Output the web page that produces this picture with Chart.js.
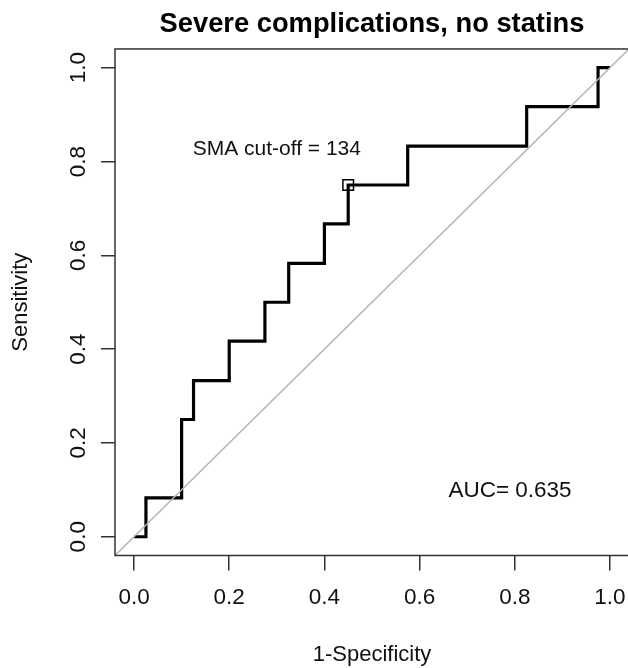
<!DOCTYPE html>
<html>
<head>
<meta charset="utf-8">
<script src="https://cdn.jsdelivr.net/npm/chart.js@4/dist/chart.umd.min.js"></script>
<style>
  html, body { margin: 0; padding: 0; background: #fff; overflow: hidden; }
  #wrap { width: 640px; height: 668px; }
</style>
</head>
<body>
<div id="wrap"><canvas id="roc" width="640" height="668"></canvas></div>
<script>
// ROC curve (1-specificity, sensitivity)
const fpr = [0, 0.025, 0.1, 0.125, 0.2, 0.275, 0.325, 0.4, 0.45, 0.575, 0.825, 0.975, 1.0];
const tpr = [0, 0.083, 0.25, 0.333, 0.417, 0.5, 0.583, 0.667, 0.75, 0.833, 0.917, 1.0, 1.0];
const refLine = [-0.04, 1.04];           // chance diagonal, across the plot
const cutoff = { x: 0.45, y: 0.75 };     // best threshold point
const xTicks = [0, 0.2, 0.4, 0.6, 0.8, 1.0];
const yTicks = [0, 0.2, 0.4, 0.6, 0.8, 1.0];
const titleText = 'Severe complications, no statins';
const cutoffText = 'SMA cut-off = 134';
const aucText = 'AUC= 0.635';

const FONT = "'Liberation Sans', Arial, Helvetica, sans-serif";

const boxPlugin = {
  id: 'box',
  afterDraw(chart) {
    const { ctx, chartArea: a, scales } = chart;
    ctx.save();
    ctx.strokeStyle = '#333';
    ctx.lineWidth = 1.5;
    ctx.strokeRect(a.left, a.top, a.right - a.left, a.bottom - a.top);

    ctx.fillStyle = '#111';
    ctx.textAlign = 'center';
    ctx.textBaseline = 'middle';
    ctx.font = '21px ' + FONT;
    ctx.fillText(cutoffText, scales.x.getPixelForValue(0.30), scales.y.getPixelForValue(0.826));
    ctx.font = '22.5px ' + FONT;
    ctx.fillText(aucText, scales.x.getPixelForValue(0.79), scales.y.getPixelForValue(0.097));
    ctx.restore();
  }
};

const fixTicks = vals => scale => { scale.ticks = vals.map(v => ({ value: v })); };

new Chart(document.getElementById('roc').getContext('2d'), {
  type: 'scatter',
  data: {
    datasets: [
      {
        data: refLine.map(v => ({ x: v, y: v })),
        showLine: true,
        borderColor: '#b4b4b4',
        borderWidth: 1.5,
        pointRadius: 0
      },
      {
        data: fpr.map((x, i) => ({ x, y: tpr[i] })),
        showLine: true,
        stepped: 'before',
        borderColor: '#000',
        borderWidth: 3.2,
        borderJoinStyle: 'miter',
        borderCapStyle: 'butt',
        pointRadius: 0
      },
      {
        data: [cutoff],
        showLine: false,
        pointStyle: 'rect',
        pointRadius: 7.5,
        pointBorderColor: '#000',
        pointBorderWidth: 1.5,
        pointBackgroundColor: 'rgba(0,0,0,0)'
      }
    ]
  },
  options: {
    responsive: false,
    animation: false,
    layout: { padding: { left: 0, top: 0, right: 10.4, bottom: 0 } },
    plugins: {
      legend: { display: false },
      tooltip: { enabled: false },
      title: {
        display: true,
        text: titleText,
        fullSize: false,
        color: '#000',
        font: { family: FONT, size: 27.3, weight: 'bold', lineHeight: 1.2 },
        padding: { top: 8.2, bottom: 8 }
      }
    },
    scales: {
      x: {
        type: 'linear',
        min: -0.04,
        max: 1.04,
        afterBuildTicks: fixTicks(xTicks),
        afterFit: s => { s.height = 112.5; },
        grid: { drawOnChartArea: false, drawTicks: true, tickLength: 15, color: '#333', lineWidth: 1.5 },
        border: { display: false },
        ticks: {
          color: '#111',
          padding: 14,
          maxRotation: 0,
          font: { family: FONT, size: 22.5 },
          callback: v => v.toFixed(1)
        },
        title: {
          display: true,
          text: '1-Specificity',
          color: '#111',
          font: { family: FONT, size: 22, lineHeight: 1.2 },
          padding: { top: 0, bottom: 0 }
        }
      },
      y: {
        type: 'linear',
        min: -0.04,
        max: 1.04,
        afterBuildTicks: fixTicks(yTicks),
        afterFit: s => { s.width = 115; },
        grid: { drawOnChartArea: false, drawTicks: true, tickLength: 14, color: '#333', lineWidth: 1.5 },
        border: { display: false },
        ticks: {
          color: '#111',
          padding: 6.2,
          minRotation: 90,
          maxRotation: 90,
          crossAlign: 'center',
          font: { family: FONT, size: 22.5 },
          callback: v => v.toFixed(1)
        },
        title: {
          display: true,
          text: 'Sensitivity',
          color: '#111',
          font: { family: FONT, size: 22, lineHeight: 1.2 },
          padding: { top: 7.8, bottom: 0 }
        }
      }
    }
  },
  plugins: [boxPlugin]
});
</script>
</body>
</html>
